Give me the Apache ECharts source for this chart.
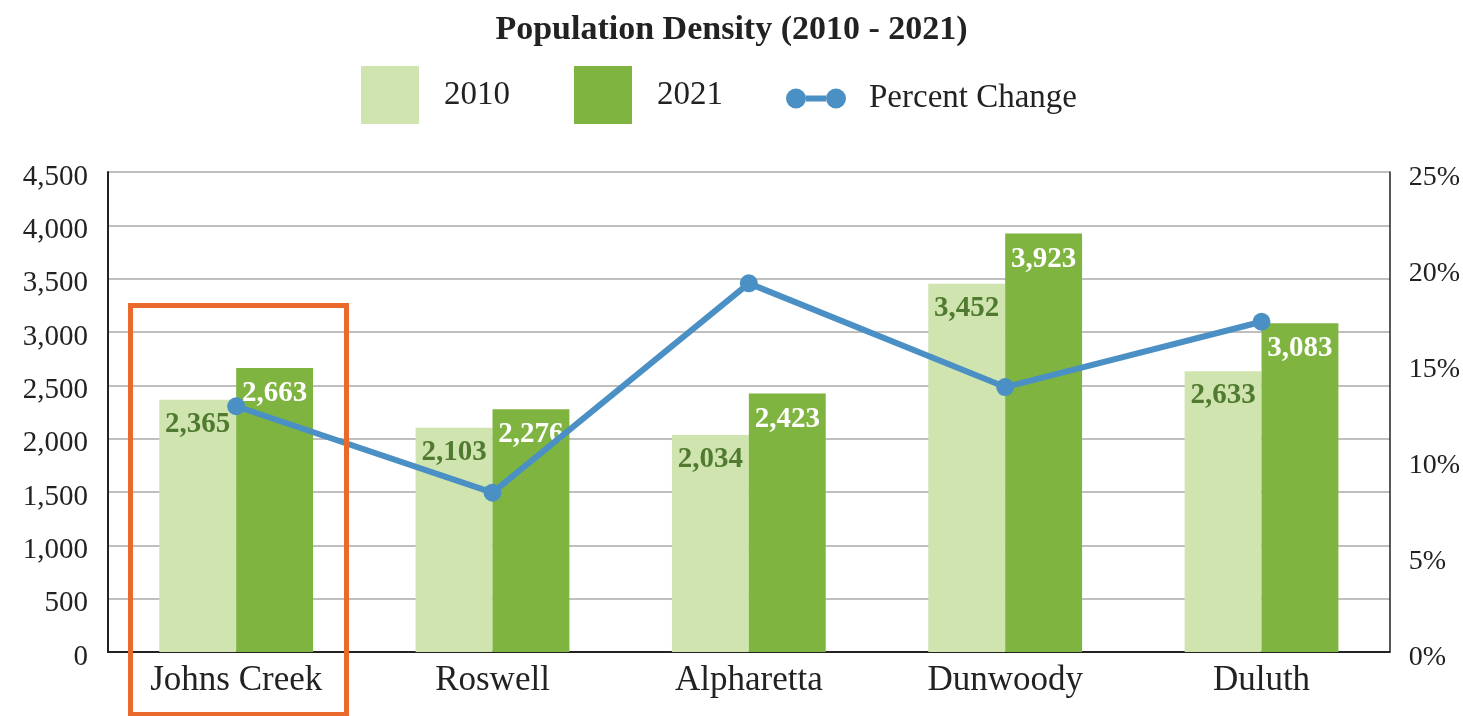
<!DOCTYPE html>
<html>
<head>
<meta charset="utf-8">
<title>Population Density (2010 - 2021)</title>
<script src="https://cdn.jsdelivr.net/npm/echarts@6/dist/echarts.min.js"></script>
<style>
    html, body { margin: 0; padding: 0; background: #fff; }
    #chart { width: 1463px; height: 716px; }
</style>
</head>
<body>
<div id="chart"></div>
<script>
    "use strict";

    // data
    const cities = ["Johns Creek", "Roswell", "Alpharetta", "Dunwoody", "Duluth"];
    const density2010 = [2365, 2103, 2034, 3452, 2633];
    const density2021 = [2663, 2276, 2423, 3923, 3083];
    const percentChange = [12.8, 8.3, 19.2, 13.8, 17.2];

    const serif = "'Liberation Serif', 'DejaVu Serif', serif";
    const fmt = v => v.toLocaleString("en-US");

    const myChart = echarts.init(document.getElementById("chart"));

    let options = {
        animation: false,
        textStyle: { fontFamily: serif },
        title: {
            text: "Population Density (2010 - 2021)",
            left: "center",
            top: 8,
            textStyle: { fontFamily: serif, fontSize: 34, fontWeight: "bold", color: "#222" }
        },
        legend: [
            {
                data: ["2010", "2021"],
                left: 356,
                top: 61,
                icon: "rect",
                itemWidth: 58,
                itemHeight: 58,
                itemGap: 64,
                textStyle: { fontFamily: serif, fontSize: 33, color: "#222", padding: [4, 0, 0, 20] }
            },
            {
                data: ["Percent Change"],
                left: 781,
                top: 77,
                icon: "path://M10,0 A10,10 0 1,1 10,20 A10,10 0 1,1 10,0 Z M20,7 H40 V13 H20 Z M50,0 A10,10 0 1,1 50,20 A10,10 0 1,1 50,0 Z",
                itemWidth: 60,
                itemHeight: 20,
                itemStyle: { color: "#4a90c4", borderWidth: 0 },
                textStyle: { fontFamily: serif, fontSize: 33, color: "#222", padding: [0, 0, 0, 18] }
            }
        ],
        grid: { left: 108, right: 73, top: 172, bottom: 64 },
        xAxis: {
            type: "category",
            data: cities,
            axisLine: { lineStyle: { color: "#222", width: 2 } },
            axisTick: { inside: true, alignWithLabel: true, length: 7, lineStyle: { color: "#222" } },
            axisLabel: { fontFamily: serif, fontSize: 35, color: "#222", margin: 11 }
        },
        yAxis: [
            {
                type: "value",
                min: 0,
                max: 4500,
                interval: 500,
                axisLine: { show: true, lineStyle: { color: "#222", width: 2 } },
                axisTick: { show: false },
                axisLabel: {
                    margin: 20,
                    formatter: v => "{t|" + fmt(v) + "}",
                    rich: { t: { fontFamily: serif, fontSize: 29, color: "#222", padding: [10, 0, 0, 0] } }
                },
                splitLine: { lineStyle: { color: "#aaa", width: 1.5 } }
            },
            {
                type: "value",
                min: 0,
                max: 25,
                interval: 5,
                position: "right",
                axisLine: { show: true, lineStyle: { color: "#222", width: 1.5 } },
                axisTick: { show: false },
                axisLabel: {
                    margin: 19,
                    formatter: v => "{t|" + v + "%}",
                    rich: { t: { fontFamily: serif, fontSize: 28, color: "#222", padding: [12, 0, 0, 0] } }
                },
                splitLine: { show: false }
            }
        ],
        series: [
            {
                name: "2010",
                type: "bar",
                data: density2010,
                barWidth: "30%",
                barGap: "0%",
                itemStyle: { color: "#cfe4ae" },
                label: {
                    show: true,
                    position: "insideTop",
                    distance: 10,
                    fontFamily: serif,
                    fontSize: 29,
                    fontWeight: "bold",
                    color: "#4f7a2f",
                    formatter: p => fmt(p.value)
                }
            },
            {
                name: "2021",
                type: "bar",
                data: density2021,
                barWidth: "30%",
                itemStyle: { color: "#80b441" },
                label: {
                    show: true,
                    position: "insideTop",
                    distance: 11,
                    fontFamily: serif,
                    fontSize: 29,
                    fontWeight: "bold",
                    color: "#fff",
                    formatter: p => fmt(p.value)
                }
            },
            {
                name: "Percent Change",
                type: "line",
                yAxisIndex: 1,
                data: percentChange,
                symbol: "circle",
                symbolSize: 18,
                z: 5,
                lineStyle: { color: "#4a90c4", width: 6 },
                itemStyle: { color: "#4a90c4" }
            }
        ],
        graphic: [
            {
                type: "rect",
                left: 128,
                top: 303,
                shape: { width: 216, height: 409 },
                style: { fill: "none", stroke: "#ea6a2e", lineWidth: 5 },
                z: 100
            }
        ]
    };
    myChart.setOption(options);
</script>
</body>
</html>
